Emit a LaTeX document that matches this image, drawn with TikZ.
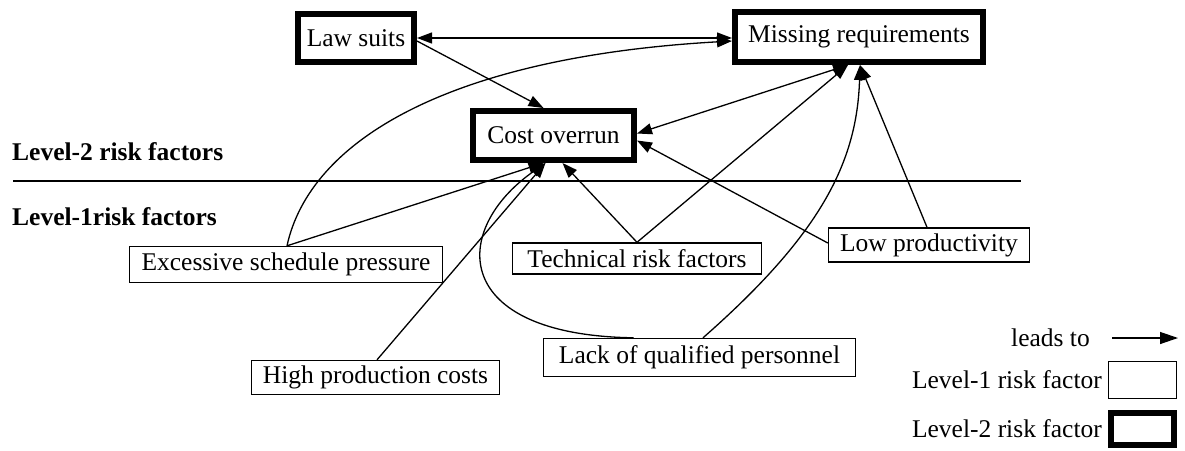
\documentclass[tikz,border=0pt]{standalone}
\usepackage{fontspec}
\setmainfont{Liberation Serif}
\usetikzlibrary{arrows.meta,calc}
\begin{document}
\begin{tikzpicture}[x=1pt,y=-1pt,
  font=\fontsize{25.5}{30}\selectfont,
  lvlone/.style={draw,line width=1.4pt,inner sep=0pt,align=center},
  lvltwo/.style={draw,line width=6pt,inner sep=0pt,align=center},
  tip/.style={Triangle[length=15pt,width=11pt]},
  conn/.style={line width=1.3pt,-{Triangle[length=15pt,width=11pt]}},
  biconn/.style={line width=1.3pt,{Triangle[length=15pt,width=11pt]}-{Triangle[length=15pt,width=11pt]}},
  lbl/.style={inner sep=0pt}]
\useasboundingbox (0,0) rectangle (1185,450);

% level-2 risk factors
\node[lvltwo,minimum width=116pt,minimum height=48pt] (law) at (356,38) {Law suits};
\node[lvltwo,minimum width=248pt,minimum height=50pt] (miss) at (859,37) {Missing requirements};
\node[lvltwo,minimum width=161pt,minimum height=49pt] (cost) at (553.5,135.5) {Cost overrun};

% level separator and headings
\node[lbl,anchor=west,font=\fontsize{25.5}{30}\selectfont\bfseries] (h2) at (12,152) {Level-2 risk factors};
\node[lbl,anchor=west,font=\fontsize{25.5}{30}\selectfont\bfseries] (h1) at (12,217) {Level-1risk factors};
\coordinate (sepL) at (13,181);
\coordinate (sepR) at (1021,181);
\draw[line width=1.2pt] (sepL) -- (sepR);

% level-1 risk factors
\node[lvlone,minimum width=313pt,minimum height=36pt] (exc) at (286,264.5) {Excessive schedule pressure};
\node[lvlone,minimum width=248pt,minimum height=34pt] (high) at (375.5,377.5) {High production costs};
\node[lvlone,minimum width=249pt,minimum height=31pt] (tech) at (637,258.5) {Technical risk factors};
\node[lvlone,minimum width=312pt,minimum height=38pt] (lack) at (699.5,357.5) {Lack of qualified personnel};
\node[lvlone,minimum width=201pt,minimum height=34pt] (low) at (929,245) {Low productivity};

% relations among level-2 factors
\draw[biconn] (law.east) -- (law.east -| miss.west);
\draw[conn] ($(law.east)+(0,3)$) -- ($(cost.north)+(-10,0)$);
\draw[biconn] ($(cost.east)+(0,-2)$) -- ($(miss.south)+(-11,0)$);

% excessive schedule pressure
\draw[conn] ($(exc.north)+(1,0)$) -- ($(cost.south)+(-10,0)$);
\draw[conn] ($(exc.north)+(1,0)$) .. controls (310,140) and (450,57) .. ($(miss.west)+(0,4)$);

% high production costs
\draw[conn] ($(high.north)+(1.5,0)$) -- ($(cost.south)+(-8,0)$);

% lack of qualified personnel
\draw[conn] ($(lack.north)+(-66,0)$) .. controls (450,335) and (450,230) .. ($(cost.south)+(-8,0)$);
\draw[conn] ($(lack.north)+(3.5,0)$) .. controls (820,235) and (857,163) .. ($(miss.south)+(1,0)$);

% technical risk factors
\draw[conn] (tech.north) -- ($(cost.south)+(9,0)$);
\draw[conn] (tech.north) -- ($(miss.south)+(-11,0)$);

% low productivity
\draw[conn] ($(low.west)+(0,-2)$) -- ($(cost.east)+(0,5)$);
\draw[conn] ($(low.north)+(-2,0)$) -- ($(miss.south)+(1,0)$);

% legend
\node[lbl,anchor=east] (leadsto) at (1090,338) {leads to};
\coordinate (legA) at (1112,338);
\coordinate (legB) at (1178,338);
\draw[line width=1.3pt,-{Triangle[length=18pt,width=12pt]}] (legA) -- (legB);
\node[lvlone,minimum width=68pt,minimum height=37pt] (keyone) at (1142.5,380) {};
\node[lbl,anchor=east] (keyonetxt) at (1102,380) {Level-1 risk factor};
\node[lvltwo,minimum width=63pt,minimum height=32pt] (keytwo) at (1142.5,428.5) {};
\node[lbl,anchor=east] (keytwotxt) at (1102,428.5) {Level-2 risk factor};
\end{tikzpicture}
\end{document}
